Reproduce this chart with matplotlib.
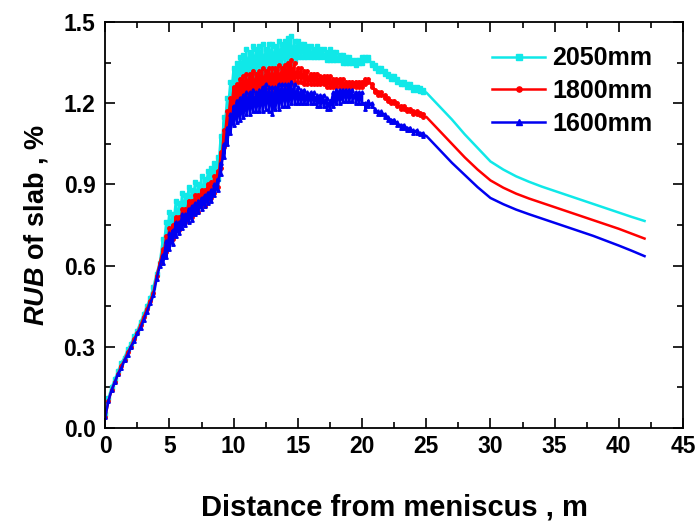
import numpy as np
import matplotlib
matplotlib.use('Agg')
import matplotlib.pyplot as plt
from matplotlib.ticker import MultipleLocator, FormatStrFormatter

plt.rcParams['font.family'] = ['Liberation Sans', 'DejaVu Sans']
plt.rcParams['mathtext.fontset'] = 'custom'
plt.rcParams['mathtext.it'] = 'Liberation Sans:italic:bold'
plt.rcParams['mathtext.rm'] = 'Liberation Sans:bold'

# 앞부분 (0 ~ 4.25 m) 매끈한 구간
x_head = [0, 0.25, 0.5, 0.75, 1, 1.25, 1.5, 1.75, 2, 2.25, 2.5, 2.75, 3, 3.25, 3.5, 3.75, 4, 4.25]
head_2050 = [0.05, 0.11, 0.15, 0.18, 0.21, 0.24, 0.26, 0.29, 0.31, 0.34, 0.36, 0.39, 0.42, 0.45, 0.48, 0.52, 0.57, 0.61]
head_1800 = [0.04, 0.10, 0.14, 0.17, 0.20, 0.23, 0.25, 0.28, 0.30, 0.33, 0.35, 0.38, 0.41, 0.44, 0.47, 0.50, 0.56, 0.61]
head_1600 = [0.04, 0.10, 0.14, 0.17, 0.20, 0.22, 0.25, 0.27, 0.30, 0.32, 0.35, 0.37, 0.40, 0.43, 0.46, 0.49, 0.55, 0.60]

# 진동 구간 (4.5 ~ 24.75 m), 0.25 m 간격의 상한/하한
x_noisy = list(np.arange(4.5, 24.8, 0.25))
hi_2050 = [0.70, 0.76,
           0.80, 0.79, 0.84, 0.83, 0.87, 0.86, 0.89, 0.88, 0.91, 0.90, 0.93, 0.92,
           0.95, 0.96, 0.98, 1.00, 1.08, 1.15, 1.22, 1.28, 1.33, 1.35, 1.37, 1.38,
           1.40, 1.39, 1.41, 1.40, 1.41, 1.42, 1.40, 1.42, 1.42, 1.41, 1.43, 1.42,
           1.43, 1.44, 1.45, 1.43, 1.43, 1.42, 1.42, 1.41, 1.41, 1.40, 1.41, 1.40,
           1.40, 1.39, 1.40, 1.39, 1.39, 1.38, 1.38, 1.37, 1.37, 1.36, 1.36, 1.36,
           1.37, 1.37, 1.37, 1.35, 1.34, 1.33, 1.33, 1.32, 1.31, 1.30, 1.30, 1.29,
           1.28, 1.28, 1.27, 1.27, 1.26, 1.26, 1.255, 1.25]
lo_2050 = [0.64, 0.67,
           0.70, 0.72, 0.74, 0.75, 0.77, 0.78, 0.79, 0.80, 0.81, 0.82, 0.83, 0.84,
           0.86, 0.87, 0.89, 0.92, 1.00, 1.08, 1.15, 1.20, 1.24, 1.25, 1.27, 1.28,
           1.29, 1.30, 1.30, 1.31, 1.31, 1.31, 1.32, 1.32, 1.32, 1.33, 1.33, 1.34,
           1.34, 1.35, 1.35, 1.36, 1.37, 1.37, 1.37, 1.37, 1.37, 1.37, 1.37, 1.37,
           1.37, 1.36, 1.36, 1.36, 1.36, 1.36, 1.35, 1.35, 1.35, 1.35, 1.34, 1.35,
           1.35, 1.36, 1.36, 1.34, 1.33, 1.32, 1.32, 1.31, 1.30, 1.29, 1.29, 1.28,
           1.27, 1.27, 1.26, 1.26, 1.25, 1.25, 1.245, 1.24]
hi_1800 = [0.66, 0.71,
           0.74, 0.75, 0.78, 0.78, 0.81, 0.81, 0.84, 0.84, 0.86, 0.86, 0.88, 0.88,
           0.90, 0.91, 0.93, 0.95, 1.02, 1.10, 1.17, 1.22, 1.26, 1.27, 1.29, 1.30,
           1.31, 1.31, 1.32, 1.31, 1.32, 1.33, 1.32, 1.33, 1.33, 1.33, 1.34, 1.33,
           1.34, 1.35, 1.36, 1.35, 1.33, 1.33, 1.32, 1.32, 1.31, 1.31, 1.31, 1.30,
           1.30, 1.30, 1.30, 1.29, 1.29, 1.29, 1.29, 1.28, 1.28, 1.28, 1.28, 1.28,
           1.28, 1.29, 1.29, 1.27, 1.25, 1.24, 1.24, 1.23, 1.22, 1.21, 1.21, 1.20,
           1.19, 1.19, 1.18, 1.18, 1.17, 1.17, 1.165, 1.16]
lo_1800 = [0.63, 0.65,
           0.69, 0.70, 0.73, 0.73, 0.76, 0.76, 0.78, 0.78, 0.80, 0.80, 0.82, 0.82,
           0.84, 0.85, 0.87, 0.89, 0.96, 1.04, 1.11, 1.15, 1.18, 1.19, 1.20, 1.20,
           1.21, 1.21, 1.22, 1.22, 1.22, 1.23, 1.23, 1.24, 1.24, 1.24, 1.25, 1.25,
           1.25, 1.26, 1.27, 1.28, 1.28, 1.28, 1.27, 1.27, 1.27, 1.27, 1.27, 1.27,
           1.27, 1.26, 1.26, 1.26, 1.26, 1.26, 1.26, 1.26, 1.26, 1.26, 1.26, 1.26,
           1.26, 1.27, 1.28, 1.26, 1.24, 1.23, 1.23, 1.22, 1.21, 1.20, 1.20, 1.19,
           1.18, 1.18, 1.17, 1.17, 1.16, 1.16, 1.155, 1.15]
hi_1600 = [0.64, 0.69,
           0.72, 0.73, 0.76, 0.76, 0.79, 0.79, 0.81, 0.82, 0.83, 0.84, 0.85, 0.86,
           0.87, 0.88, 0.90, 0.92, 0.98, 1.05, 1.11, 1.16, 1.19, 1.21, 1.22, 1.23,
           1.24, 1.24, 1.25, 1.24, 1.25, 1.26, 1.27, 1.26, 1.26, 1.26, 1.27, 1.27,
           1.27, 1.27, 1.28, 1.27, 1.26, 1.25, 1.25, 1.24, 1.24, 1.24, 1.23, 1.23,
           1.23, 1.22, 1.21, 1.24, 1.25, 1.25, 1.25, 1.25, 1.25, 1.25, 1.24, 1.24,
           1.24, 1.20, 1.21, 1.20, 1.18, 1.17, 1.17, 1.16, 1.15, 1.14, 1.14, 1.13,
           1.12, 1.12, 1.11, 1.11, 1.10, 1.10, 1.09, 1.09]
lo_1600 = [0.61, 0.63,
           0.66, 0.68, 0.71, 0.72, 0.74, 0.75, 0.76, 0.77, 0.79, 0.80, 0.81, 0.82,
           0.83, 0.84, 0.86, 0.88, 0.94, 1.00, 1.05, 1.09, 1.12, 1.13, 1.14, 1.15,
           1.16, 1.16, 1.17, 1.17, 1.17, 1.17, 1.18, 1.17, 1.16, 1.18, 1.18, 1.19,
           1.19, 1.19, 1.20, 1.20, 1.20, 1.20, 1.20, 1.20, 1.20, 1.20, 1.19, 1.19,
           1.19, 1.18, 1.18, 1.19, 1.20, 1.20, 1.21, 1.21, 1.21, 1.21, 1.20, 1.20,
           1.20, 1.18, 1.19, 1.19, 1.17, 1.16, 1.16, 1.15, 1.14, 1.13, 1.13, 1.12,
           1.11, 1.11, 1.10, 1.10, 1.09, 1.09, 1.085, 1.08]

# 뒷부분 (25 ~ 42 m)
x_tail = [25, 26, 27, 28, 29, 30, 31, 32, 33, 34, 35, 36, 37, 38, 39, 40, 41, 42]
tail_2050 = [1.24, 1.19, 1.14, 1.085, 1.035, 0.985, 0.955, 0.93, 0.91, 0.892, 0.876, 0.86, 0.844, 0.828, 0.812, 0.796, 0.78, 0.765]
tail_1800 = [1.15, 1.10, 1.05, 1.00, 0.955, 0.915, 0.888, 0.866, 0.848, 0.832, 0.816, 0.80, 0.784, 0.768, 0.752, 0.736, 0.718, 0.70]
tail_1600 = [1.08, 1.03, 0.98, 0.935, 0.89, 0.85, 0.827, 0.807, 0.79, 0.774, 0.758, 0.742, 0.726, 0.71, 0.692, 0.674, 0.655, 0.635]

labels = ['2050mm', '1800mm', '1600mm']
colors = ['#10E8E8', '#FF0000', '#0000F0']
markers = ['s', 'o', '^']


def build(head, hi, lo, tail):
    xs = list(x_head)
    ys = list(head)
    for xv, h, l in zip(x_noisy, hi, lo):
        xs += [xv, xv]
        ys += [h, l]
    n_mark = len(xs)
    xs += x_tail
    ys += tail
    return xs, ys, n_mark


series = [build(head_2050, hi_2050, lo_2050, tail_2050),
          build(head_1800, hi_1800, lo_1800, tail_1800),
          build(head_1600, hi_1600, lo_1600, tail_1600)]

fig = plt.figure(figsize=(6.97, 5.27), dpi=100)
ax = fig.add_axes([0.151, 0.188, 0.829, 0.77])

for (xs, ys, n_mark), lab, c, m in zip(series, labels, colors, markers):
    ax.plot(xs, ys, color=c, lw=1.8, marker=m, markersize=2.5,
            markevery=slice(0, n_mark), label=lab)

ax.set_xlim(0, 45)
ax.set_ylim(0, 1.5)
ax.xaxis.set_major_locator(MultipleLocator(5))
ax.xaxis.set_minor_locator(MultipleLocator(2.5))
ax.yaxis.set_major_locator(MultipleLocator(0.3))
ax.yaxis.set_minor_locator(MultipleLocator(0.15))
ax.yaxis.set_major_formatter(FormatStrFormatter('%.1f'))
ax.tick_params(which='both', direction='in', top=True, right=True, width=1.2)
ax.tick_params(which='major', length=7, labelsize=16.5)
ax.tick_params(axis='y', which='major', pad=7)
ax.tick_params(axis='x', which='major', pad=5)
ax.tick_params(which='minor', length=4)
for lbl in ax.get_xticklabels() + ax.get_yticklabels():
    lbl.set_fontweight('bold')
for sp in ax.spines.values():
    sp.set_linewidth(1.3)

ax.set_xlabel('Distance from meniscus , m', fontsize=21, fontweight='bold', labelpad=26)
ax.set_ylabel(r'$\mathit{RUB}$ of slab , %', fontsize=19.5, fontweight='bold', labelpad=10)

leg = ax.legend(loc='upper left', bbox_to_anchor=(0.67, 0.94), frameon=False,
                prop={'size': 18, 'weight': 'bold'}, handlelength=2.1,
                handletextpad=0.3, labelspacing=0.35, borderpad=0,
                borderaxespad=0, markerscale=1.5)

plt.savefig('out.png', dpi=100)
